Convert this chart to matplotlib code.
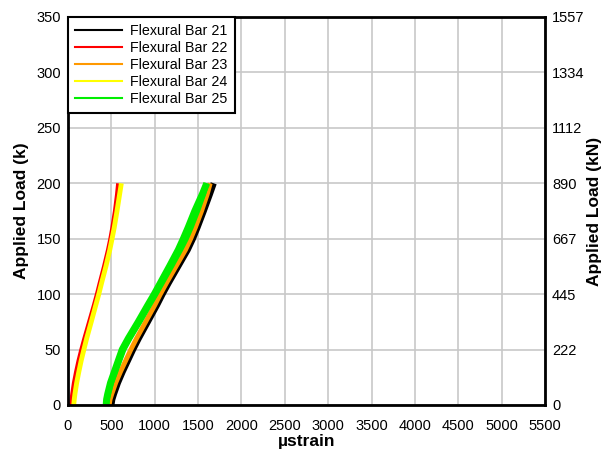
import matplotlib
matplotlib.use("Agg")
import matplotlib.pyplot as plt

plt.rcParams['font.family'] = ['Liberation Sans', 'DejaVu Sans']

# Applied load (kips) sampled along each loading path
load_k = [0, 5, 10, 20, 30, 40, 50, 60, 75, 90, 100, 110, 125, 140, 150, 160, 175, 190, 200]

# Microstrain readings for each flexural bar
bar21 = [500, 510, 530, 575, 630, 690, 750, 815, 920, 1025, 1090, 1160, 1270, 1380, 1440, 1492, 1565, 1635, 1680]
bar22 = [32, 38, 46, 65, 90, 118, 150, 185, 240, 295, 330, 362, 412, 458, 485, 508, 538, 562, 575]
bar23 = [475, 485, 505, 550, 605, 665, 725, 790, 895, 1000, 1065, 1135, 1245, 1355, 1415, 1468, 1540, 1605, 1640]
bar24 = [66, 72, 80, 100, 125, 152, 183, 215, 268, 320, 355, 387, 437, 482, 508, 533, 565, 595, 615]
bar25_up = [440, 445, 458, 490, 535, 580, 625, 695, 810, 920, 995, 1065, 1170, 1272, 1330, 1385, 1462, 1548, 1600]
bar25_down = [450, 458, 472, 508, 555, 602, 650, 720, 835, 945, 1020, 1092, 1200, 1305, 1370, 1425, 1500, 1568, 1605]

series_labels = ["Flexural Bar 21", "Flexural Bar 22", "Flexural Bar 23",
                 "Flexural Bar 24", "Flexural Bar 25"]
series_colors = ["#000000", "#ff0000", "#ff9900", "#ffff00", "#00ee00"]

x_ticks = list(range(0, 5501, 500))
y_ticks = list(range(0, 351, 50))
kn_labels = ["0", "222", "445", "667", "890", "1112", "1334", "1557"]

fig = plt.figure(figsize=(6.06, 4.51), dpi=100)
ax = fig.add_axes([68 / 606, 1 - 405 / 451, (545 - 68) / 606, (405 - 17) / 451])

line_kw = dict(solid_capstyle='butt', solid_joinstyle='round')
ax.plot(bar21, load_k, color=series_colors[0], lw=4.5, **line_kw)
ax.plot(bar22, load_k, color=series_colors[1], lw=2.5, **line_kw)
ax.plot(bar23, load_k, color=series_colors[2], lw=3.5, **line_kw)
ax.plot(bar24, load_k, color=series_colors[3], lw=3.5, **line_kw)
ax.plot(bar25_up, load_k, color=series_colors[4], lw=5, **line_kw)
ax.plot(bar25_down, load_k, color=series_colors[4], lw=3, **line_kw)

ax.set_xlim(0, 5500)
ax.set_ylim(0, 350)
ax.set_xticks(x_ticks)
ax.set_yticks(y_ticks)
ax.grid(True, color='#c8c8c8', lw=1.2)
ax.set_axisbelow(True)
ax.tick_params(axis='y', length=0, pad=5, labelsize=10.5)
ax.tick_params(axis='x', length=0, pad=10, labelsize=10.5)
for sp in ax.spines.values():
    sp.set_linewidth(2)
    sp.set_color('black')

ax.set_xlabel("µstrain", fontsize=12.5, fontweight='bold', labelpad=1)
ax.set_ylabel("Applied Load (k)", fontsize=12.5, fontweight='bold', labelpad=5)

ax2 = ax.twinx()
ax2.set_ylim(0, 350)
ax2.set_yticks(y_ticks)
ax2.set_yticklabels(kn_labels)
ax2.tick_params(length=0, pad=5, labelsize=10.5)
for sp in ax2.spines.values():
    sp.set_visible(False)
ax2.set_ylabel("Applied Load (kN)", fontsize=12.5, fontweight='bold', labelpad=2)

handles = [plt.Line2D([], [], color=c, lw=1.5) for c in series_colors]
leg = ax.legend(handles, series_labels, loc='upper left', bbox_to_anchor=(0, 1),
                frameon=True, fancybox=False, framealpha=1, edgecolor='black',
                fontsize=10.3, handlelength=3.3, labelspacing=0.2,
                borderaxespad=0, borderpad=0.5, handletextpad=0.55)
leg.get_frame().set_linewidth(1.5)

fig.savefig("out.png", dpi=100)
